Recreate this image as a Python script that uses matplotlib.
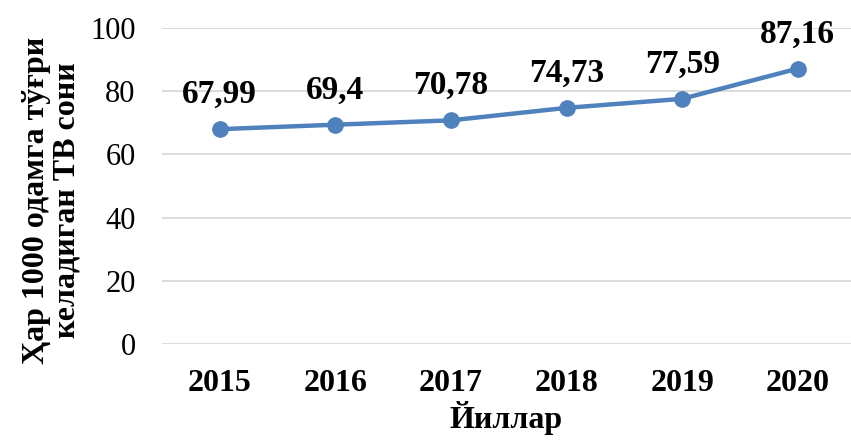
import matplotlib.pyplot as plt

years = ['2015', '2016', '2017', '2018', '2019', '2020']
tv_per_1000 = [67.99, 69.4, 70.78, 74.73, 77.59, 87.16]
value_labels = ['67,99', '69,4', '70,78', '74,73', '77,59', '87,16']

plt.rcParams['font.family'] = ['Liberation Serif', 'DejaVu Serif']

fig = plt.figure(figsize=(8.51, 4.41), dpi=100)
ax = fig.add_axes([162/851, (441-344)/441, (851-162)/851, (344-28)/441])

x = range(len(years))
ax.plot(x, tv_per_1000, color='#4F81BD', lw=3.2, marker='o', ms=11, zorder=3)
for i, v in enumerate(tv_per_1000):
	ax.annotate(value_labels[i], (i, v), xytext=(0, 25), textcoords='offset points',
				ha='center', va='center', fontsize=24, fontweight='bold')

ax.set_ylim(0, 100)
ax.set_xlim(-0.5, 5.46)
ax.set_yticks(range(0, 101, 20))
ax.set_xticks(list(x))
ax.set_xticklabels(years, fontsize=23, fontweight='bold')
ax.tick_params(axis='y', labelsize=22, length=0, pad=19)
ax.tick_params(axis='x', length=0, pad=18)
ax.grid(axis='y', color='#D9D9D9', lw=1.3)
ax.set_axisbelow(True)
for s in ax.spines.values():
	s.set_visible(False)

ax.set_xlabel('Йиллар', fontsize=23, fontweight='bold', labelpad=2)
ax.set_ylabel('Ҳар 1000 одамга тўғри\nкеладиган ТВ сони', fontsize=23,
			  fontweight='bold', linespacing=1.05)
ax.yaxis.set_label_coords(-0.117, 0.455)

fig.savefig('out.png', dpi=100)
